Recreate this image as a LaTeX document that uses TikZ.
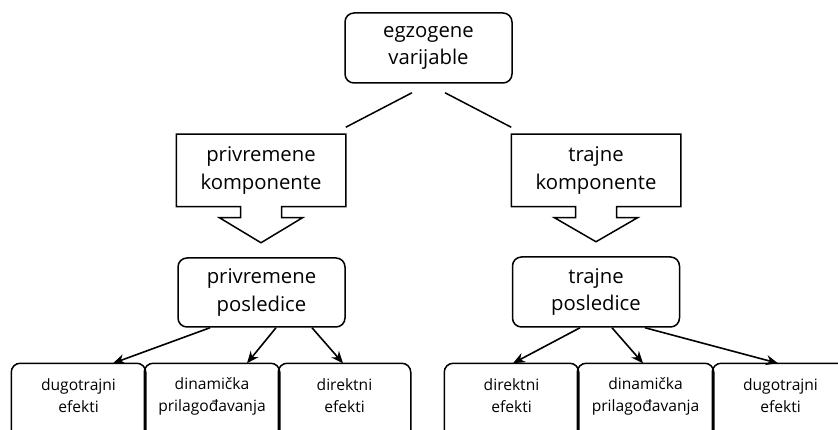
\documentclass[tikz,border=0pt]{standalone}
\usepackage{fontspec}
\setmainfont{Open Sans}
\usetikzlibrary{arrows.meta}
\begin{document}
\begin{tikzpicture}[x=1pt,y=-1pt, line width=1.5pt, line join=miter,
  big/.style={font=\fontsize{20.3}{27.5}\selectfont, align=center},
  small/.style={font=\fontsize{15.6}{22}\selectfont, align=center},
  rbox/.style={big, draw, rounded corners=9pt, minimum width=167pt, minimum height=70pt, inner sep=0pt},
  cbox/.style={big, minimum width=168pt, minimum height=71pt, inner sep=0pt},
  leaf/.style={small, minimum height=64pt, inner sep=0pt},
  arr/.style={-{Stealth[length=12pt,width=10pt]}, line width=1.6pt},
  leafline/.style={rounded corners=9pt},
]
\clip (0,0) rectangle (838,430);
% top
\node[rbox] (top) at (428.5,48) {egzogene\\varijable};
% callouts
\node[cbox] (lc) at (261,170.5) {privremene\\komponente};
\node[cbox] (rc) at (596,170.5) {trajne\\komponente};
\draw (lc.north west) -- (lc.north east) -- (lc.south east) -- ([xshift=20.5pt]lc.south) -- ++(0,11) -- ++(21,0) -- ++(-41.5,25) -- ++(-41.5,-25) -- ++(21,0) -- ++(0,-11) -- (lc.south west) -- cycle;
\draw (rc.north west) -- (rc.north east) -- (rc.south east) -- ([xshift=20.5pt]rc.south) -- ++(0,11) -- ++(21,0) -- ++(-41.5,24) -- ++(-41.5,-24) -- ++(21,0) -- ++(0,-11) -- (rc.south west) -- cycle;
\draw ([xshift=-16.5pt,yshift=-9pt]top.south) -- ([yshift=7pt]lc.north east);
\draw ([xshift=16.5pt,yshift=-9pt]top.south) -- ([yshift=7pt]rc.north west);
% consequences
\node[rbox, minimum height=69pt] (lp) at (261.5,292.5) {privremene\\posledice};
\node[rbox] (rp) at (596,292) {trajne\\posledice};
% leaves
\node[leaf, minimum width=133pt] (a1) at (78.5,396) {dugotrajni\\efekti};
\node[leaf, minimum width=134pt] (a2) at (212,396) {dinamička\\prilagođavanja};
\node[leaf, minimum width=131pt] (a3) at (344.5,396) {direktni\\efekti};
\node[leaf, minimum width=133pt] (c1) at (511.5,396) {direktni\\efekti};
\node[leaf, minimum width=135pt] (c2) at (645.5,396) {dinamička\\prilagođavanja};
\node[leaf, minimum width=135pt] (c3) at (780.5,396) {dugotrajni\\efekti};
\foreach \n in {a1,a2,a3,c1,c2,c3}{
  \draw[leafline] ([yshift=-20pt]\n.south west) -- (\n.north west) -- (\n.north east) -- ([yshift=-20pt]\n.south east);
}
% arrows
\draw[arr] ([xshift=-51.5pt]lp.south) -- ([xshift=34.5pt]a1.north);
\draw[arr] ([xshift=14.5pt]lp.south) -- ([xshift=35pt]a2.north);
\draw[arr] ([xshift=50.5pt]lp.south) -- ([xshift=-1.5pt]a3.north);
\draw[arr] ([xshift=-16pt]rp.south) -- ([xshift=1.5pt]c1.north);
\draw[arr] ([xshift=16pt]rp.south) -- ([xshift=-2.5pt]c2.north);
\draw[arr] ([xshift=49pt]rp.south) -- ([xshift=-2.5pt]c3.north);
\end{tikzpicture}
\end{document}
